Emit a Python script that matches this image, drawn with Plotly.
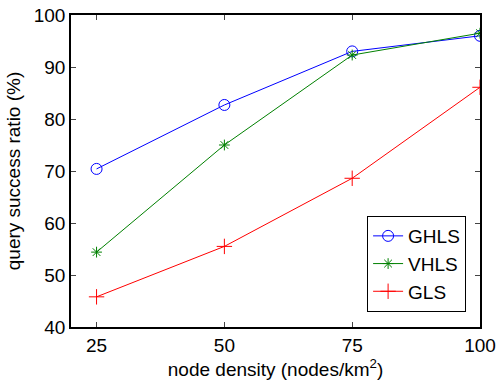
import plotly.graph_objects as go

density = [25, 50, 75, 100]
ghls = [70.4, 82.7, 93.0, 96.0]
vhls = [54.4, 75.0, 92.3, 96.5]
gls = [45.8, 55.5, 68.6, 86.1]

fig = go.Figure()
fig.add_trace(go.Scatter(x=density, y=ghls, name="GHLS", mode="lines+markers",
                         line=dict(color="#0000FF", width=1),
                         marker=dict(symbol="circle-open", size=11, color="#0000FF", line=dict(width=1))))
fig.add_trace(go.Scatter(x=density, y=vhls, name="VHLS", mode="lines+markers",
                         line=dict(color="#008000", width=1),
                         marker=dict(symbol="asterisk-open", size=9, color="#008000", line=dict(width=1))))
fig.add_trace(go.Scatter(x=density, y=gls, name="GLS", mode="lines+markers",
                         line=dict(color="#FF0000", width=1),
                         marker=dict(symbol="cross-thin-open", size=11, color="#FF0000", line=dict(width=1))))

font = "Liberation Sans, Arial, Helvetica, sans-serif"
fig.update_layout(
    width=497, height=386,
    margin=dict(l=71, r=17, t=15, b=59, autoexpand=False),
    paper_bgcolor="white", plot_bgcolor="white",
    font=dict(family=font, color="black", size=19),
    xaxis=dict(range=[20, 100], tickvals=density, ticks="inside", ticklen=5,
               showline=True, linecolor="black", linewidth=1.5, mirror="ticks",
               showgrid=False, zeroline=False, tickfont=dict(size=19), automargin=False,
               title=dict(text="node density (nodes/km<sup>2</sup>)", font=dict(size=19), standoff=8)),
    yaxis=dict(range=[40, 100], tickvals=[40, 50, 60, 70, 80, 90, 100], ticks="inside", ticklen=5,
               showline=True, linecolor="black", linewidth=1.5, mirror="ticks",
               showgrid=False, zeroline=False, tickfont=dict(size=19), automargin=False,
               title=dict(text="query success ratio (%)", font=dict(size=19), standoff=8)),
    legend=dict(x=0.966, y=0.048, xanchor="right", yanchor="bottom",
                bordercolor="black", borderwidth=1, bgcolor="white",
                entrywidth=66, entrywidthmode="pixels",
                font=dict(size=19)),
    showlegend=True,
)
fig.write_html("out.html")
